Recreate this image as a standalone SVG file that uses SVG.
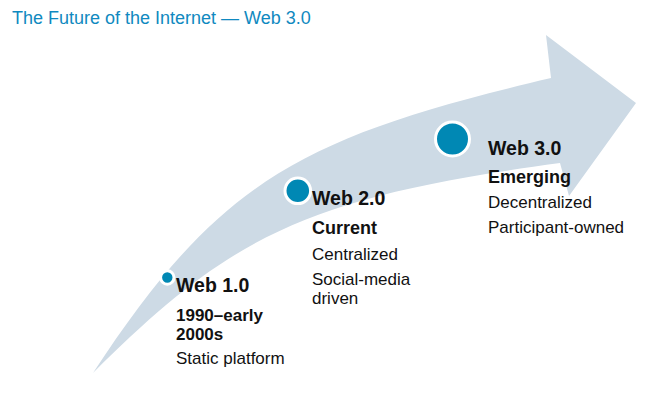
<svg xmlns="http://www.w3.org/2000/svg" width="657" height="395" viewBox="0 0 657 395">
<style>
  text { font-family: "Liberation Sans", Arial, sans-serif; fill: #111; }
  .title { font-size: 18px; fill: #1089c0; }
  .head { font-size: 19.5px; font-weight: bold; }
  .sub { font-size: 18px; font-weight: bold; }
  .sub2 { font-size: 17px; font-weight: bold; }
  .body { font-size: 17px; }
  .dot { fill: #0088b4; stroke: #ffffff; stroke-width: 3; }
  .band { fill: #cddae5; }
</style>
<rect width="657" height="395" fill="#ffffff"/>
<text class="title" x="12" y="24">The Future of the Internet — Web 3.0</text>
<g id="connectors">
  <path class="band" d="M93,373 C219.5,179.8 301,136.75 551,78 L546,35 L636,103 L569,196 L560,163 C310,197 233,233 93,373 Z"/>
</g>
<g id="web1">
  <circle class="dot" cx="167.3" cy="277.5" r="6.7" stroke-width="2.7"/>
  <text class="head" x="176" y="292">Web 1.0</text>
  <text class="sub2" x="176" y="321">1990–early<tspan x="176" y="340">2000s</tspan></text>
  <text class="body" x="176" y="364">Static platform</text>
</g>
<g id="web2">
  <circle class="dot" cx="297.8" cy="190.8" r="12.8"/>
  <text class="head" x="312" y="205">Web 2.0</text>
  <text class="sub" x="312" y="234">Current</text>
  <text class="body" x="312" y="259.5">Centralized</text>
  <text class="body" x="312" y="284.5">Social-media<tspan x="312" y="304">driven</tspan></text>
</g>
<g id="web3">
  <circle class="dot" cx="452.5" cy="139" r="17"/>
  <text class="head" x="488" y="154.5">Web 3.0</text>
  <text class="sub" x="488" y="182.5">Emerging</text>
  <text class="body" x="488" y="207.5">Decentralized</text>
  <text class="body" x="488" y="232.5">Participant-owned</text>
</g>
</svg>
